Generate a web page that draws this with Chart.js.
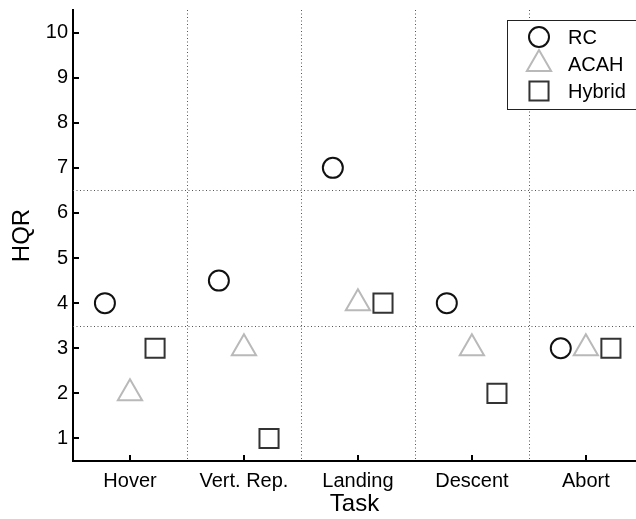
<!DOCTYPE html>
<html lang="en">

<head>
  <meta charset="UTF-8">
  <title>HQR by Task</title>
  <style>
    html, body { margin: 0; padding: 0; background: #fff; overflow: hidden; }
    #wrap { width: 636px; height: 519px; }
  </style>
</head>

<body>
  <div id="wrap"><canvas id="chart" width="636" height="519"></canvas></div>

  <script src="https://cdn.jsdelivr.net/npm/chart.js"></script>
  <script>
    // Ratings, one value per task
    const tasks = ['Hover', 'Vert. Rep.', 'Landing', 'Descent', 'Abort'];
    const rcRatings = [4, 4.5, 7, 4, 3];
    const acahRatings = [2, 3, 4, 3, 3];
    const hybridRatings = [3, 1, 4, 2, 3];
    const hqrTicks = [1, 2, 3, 4, 5, 6, 7, 8, 9, 10];
    const levelBounds = [3.5, 6.5];

    const FONT = "'Liberation Sans', Arial, Helvetica, sans-serif";

    // each system sits a little left/right of the task centre
    function toPoints(values, shift) {
      return values.map((v, i) => ({ x: i + 1 + shift, y: v }));
    }

    const series = [
      { label: 'RC', data: toPoints(rcRatings, -0.22), pointStyle: 'circle', radius: 10, color: '#111' },
      { label: 'ACAH', data: toPoints(acahRatings, 0), pointStyle: 'triangle', radius: 14, color: '#b9b9b9' },
      { label: 'Hybrid', data: toPoints(hybridRatings, 0.22), pointStyle: 'rect', radius: 13.5, color: '#333' },
    ];

    // dotted separators + inward tick marks, MATLAB style
    const taskGrid = {
      id: 'taskGrid',
      beforeDatasetsDraw(chart) {
        const { ctx, chartArea: a, scales: { x, y } } = chart;
        ctx.save();
        ctx.strokeStyle = '#555';
        ctx.lineWidth = 1;
        ctx.setLineDash([1, 2.5]);
        ctx.beginPath();
        for (let i = 1; i < tasks.length; i++) {
          const px = Math.round(x.getPixelForValue(i + 0.5)) + 0.5;
          ctx.moveTo(px, a.top);
          ctx.lineTo(px, a.bottom);
        }
        levelBounds.forEach(v => {
          const py = Math.round(y.getPixelForValue(v)) + 0.5;
          ctx.moveTo(a.left, py);
          ctx.lineTo(a.right, py);
        });
        ctx.stroke();

        ctx.setLineDash([]);
        ctx.strokeStyle = '#000';
        ctx.lineWidth = 2;
        ctx.beginPath();
        x.ticks.forEach(t => {
          const px = Math.round(x.getPixelForValue(t.value));
          ctx.moveTo(px, a.bottom);
          ctx.lineTo(px, a.bottom - 6);
        });
        y.ticks.forEach(t => {
          const py = Math.round(y.getPixelForValue(t.value));
          ctx.moveTo(a.left, py);
          ctx.lineTo(a.left + 6, py);
        });
        ctx.stroke();
        ctx.restore();
      }
    };

    // boxed legend in the upper right corner of the plot
    const boxLegend = {
      id: 'boxLegend',
      afterDraw(chart) {
        const { ctx, chartArea: a } = chart;
        const left = a.right - 129;
        const top = a.top + 10;
        ctx.save();
        ctx.fillStyle = '#fff';
        ctx.fillRect(left, top, 140, 89);
        ctx.strokeStyle = '#222';
        ctx.lineWidth = 1;
        ctx.strokeRect(left + 0.5, top + 0.5, 140, 89);

        chart.data.datasets.forEach((ds, i) => {
          const cy = top + 17 + i * 27;
          ctx.strokeStyle = ds.borderColor;
          ctx.fillStyle = 'rgba(0,0,0,0)';
          ctx.lineWidth = ds.borderWidth;
          Chart.helpers.drawPoint(ctx, {
            pointStyle: ds.pointStyle,
            radius: ds.pointRadius,
            rotation: 0,
            borderWidth: ds.borderWidth
          }, left + 32, cy);
          ctx.fillStyle = '#000';
          ctx.font = '20px ' + FONT;
          ctx.textBaseline = 'middle';
          ctx.textAlign = 'left';
          ctx.fillText(ds.label, left + 61, cy + 1);
        });
        ctx.restore();
      }
    };

    new Chart(document.getElementById('chart'), {
      type: 'scatter',
      data: {
        datasets: series.map(s => ({
          label: s.label,
          data: s.data,
          pointStyle: s.pointStyle,
          pointRadius: s.radius,
          pointHoverRadius: s.radius,
          borderColor: s.color,
          backgroundColor: 'rgba(0,0,0,0)',
          borderWidth: 2,
          pointBorderWidth: 2,
        })),
      },
      plugins: [taskGrid, boxLegend],
      options: {
        responsive: false,
        animation: false,
        events: [],
        layout: { autoPadding: false, padding: { top: 10, right: 0, left: 0, bottom: 0 } },
        plugins: {
          legend: { display: false },
          tooltip: { enabled: false },
        },
        scales: {
          x: {
            type: 'linear',
            min: 0.5,
            max: 5.44,
            afterBuildTicks: scale => { scale.ticks = tasks.map((t, i) => ({ value: i + 1 })); },
            afterFit: scale => {
              scale.height = 58;
              scale.paddingLeft = 0;
              scale.paddingRight = 0;
            },
            grid: { display: false, drawTicks: false },
            border: { display: true, color: '#000', width: 2 },
            ticks: {
              padding: 8,
              color: '#000',
              font: { family: FONT, size: 20 },
              callback: v => tasks[v - 1] || '',
            },
            title: {
              display: true,
              text: 'Task',
              color: '#000',
              font: { family: FONT, size: 24 },
              padding: { top: 0, bottom: 0 },
            },
          },
          y: {
            min: 0.5,
            max: 10.5,
            afterBuildTicks: scale => { scale.ticks = hqrTicks.map(v => ({ value: v })); },
            afterFit: scale => {
              scale.width = 73;
              scale.paddingTop = 0;
              scale.paddingBottom = 0;
            },
            grid: { display: false, drawTicks: false },
            border: { display: true, color: '#000', width: 2 },
            ticks: {
              padding: 5,
              color: '#000',
              font: { family: FONT, size: 20 },
            },
            title: {
              display: true,
              text: 'HQR',
              color: '#000',
              font: { family: FONT, size: 24 },
              padding: { top: 8, bottom: 0 },
            },
          },
        },
      },
    });
  </script>
</body>

</html>
